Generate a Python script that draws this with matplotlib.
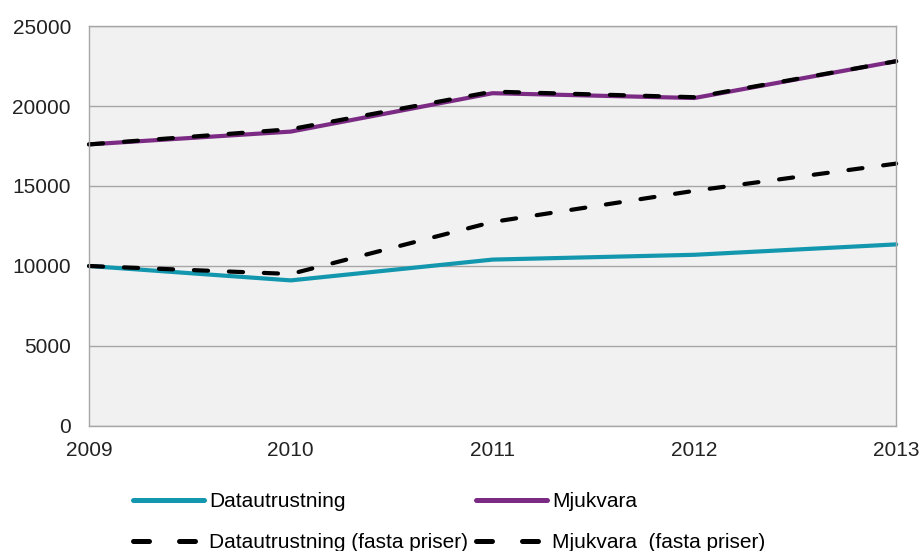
import matplotlib.pyplot as plt
from matplotlib.lines import Line2D

plt.rcParams['font.family'] = ['Liberation Sans', 'DejaVu Sans']

# Data
years = [2009, 2010, 2011, 2012, 2013]
datautrustning = [10000, 9100, 10400, 10700, 11350]
mjukvara = [17600, 18400, 20800, 20500, 22800]
datautrustning_fasta = [10000, 9500, 12750, 14700, 16400]
mjukvara_fasta = [17600, 18550, 20900, 20550, 22800]

labels = ['Datautrustning', 'Mjukvara', 'Datautrustning (fasta priser)',
          'Mjukvara  (fasta priser)']

teal = '#1397ae'
purple = '#7b2b83'

fig = plt.figure(figsize=(9.22, 5.51), dpi=100)
ax = fig.add_axes([0.0965, 0.2269, 0.8755, 0.7259])
ax.set_facecolor('#f1f1f1')

lines = []
lines += ax.plot(years, datautrustning, color=teal, lw=3, solid_capstyle='round')
lines += ax.plot(years, mjukvara, color=purple, lw=3, solid_capstyle='round')
lines += ax.plot(years, datautrustning_fasta, color='black', lw=3, dashes=(3.4, 5.0),
                 dash_capstyle='round')
lines += ax.plot(years, mjukvara_fasta, color='black', lw=3, dashes=(3.4, 5.0),
                 dash_capstyle='round')
for l in lines:
    l.set_clip_on(False)

ax.set_xlim(2009, 2013)
ax.set_ylim(0, 25000)
ax.set_xticks(years)
ax.set_yticks(range(0, 25001, 5000))
ax.yaxis.grid(True, color='#a6a6a6', lw=1)
ax.set_axisbelow(True)
for s in ax.spines.values():
    s.set_color('#a6a6a6')
    s.set_linewidth(1)
ax.tick_params(axis='both', length=0, labelsize=15, colors='#222222')
ax.tick_params(axis='y', pad=13)
ax.tick_params(axis='x', pad=11)

# legend handles drawn a bit heavier, like in the reference
h_teal = Line2D([], [], color=teal, lw=3.6, solid_capstyle='round')
h_purple = Line2D([], [], color=purple, lw=3.6, solid_capstyle='round')
h_dash1 = Line2D([], [], color='black', lw=3.6, dashes=(3.2, 6.0), dash_capstyle='round')
h_dash2 = Line2D([], [], color='black', lw=3.6, dashes=(3.2, 6.0), dash_capstyle='round')

fig.legend(handles=[h_teal, h_dash1, h_purple, h_dash2],
           labels=[labels[0], labels[2], labels[1], labels[3]],
           ncol=2, frameon=False, fontsize=15,
           loc='upper left', bbox_to_anchor=(0.135, 0.122),
           handlelength=3.4, handletextpad=0.25, labelspacing=1.05,
           columnspacing=0.4, borderaxespad=0)

fig.savefig('out.png', dpi=100)
